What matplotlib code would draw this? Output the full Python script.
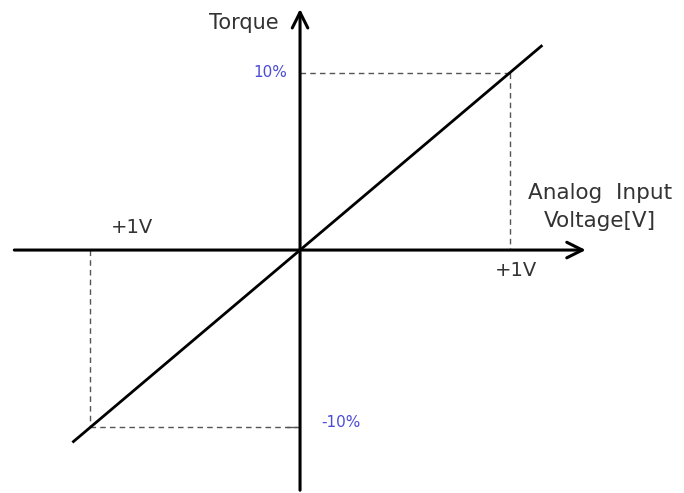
import matplotlib.pyplot as plt

# transfer characteristic: analog input voltage [V] -> torque [%]
volt = [-1.08, 1.15]
torque = [-10.8, 11.5]
ref_v = [-1.0, 1.0]
ref_t = [-10.0, 10.0]

fig = plt.figure(figsize=(6.84, 4.93), dpi=100)
ax = fig.add_axes([0, 0, 1, 1])
ax.set_xlim(-1.43, 1.83)
ax.set_ylim(-13.7, 14.1)
ax.axis('off')

# axes with open arrow heads
arrow = dict(arrowstyle='->', lw=2.2, color='black', mutation_scale=28)
ax.annotate('', xy=(1.375, 0), xytext=(-1.375, 0), arrowprops=arrow)
ax.annotate('', xy=(0, 13.75), xytext=(0, -13.7), arrowprops=arrow)

# reference dashes
dash = dict(color='#555555', lw=1, ls=(0, (4, 3)))
ax.plot([0, ref_v[1]], [ref_t[1], ref_t[1]], **dash)
ax.plot([ref_v[1], ref_v[1]], [ref_t[1], 0], **dash)
ax.plot([ref_v[0], ref_v[0]], [0, ref_t[0]], **dash)
ax.plot([ref_v[0], 0.0], [ref_t[0], ref_t[0]], **dash)
ax.plot([-0.06, -0.02], [ref_t[0], ref_t[0]], color='#555555', lw=1)

ax.plot(volt, torque, color='black', lw=2)

txt = '#333333'
blue = '#4b4bd6'
ax.text(-0.1, 12.8, 'Torque', fontsize=15, color=txt, ha='right', va='center')
ax.text(-0.06, ref_t[1], '10%', fontsize=11, color=blue, ha='right', va='center')
ax.text(0.1, ref_t[0] + 0.25, '-10%', fontsize=11, color=blue, ha='left', va='center')
ax.text(-0.8, 1.25, '+1V', fontsize=14, color=txt, ha='center', va='center')
ax.text(1.03, -1.15, '+1V', fontsize=14, color=txt, ha='center', va='center')
ax.text(1.43, 3.2, 'Analog  Input', fontsize=15.5, color=txt, ha='center', va='center')
ax.text(1.43, 1.65, 'Voltage[V]', fontsize=15.5, color=txt, ha='center', va='center')

fig.savefig('out.png', dpi=100)
